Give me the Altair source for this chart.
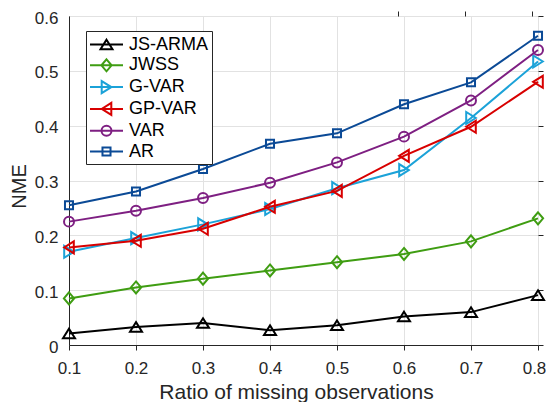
import altair as alt
import pandas as pd

# ---- data ----
ratios = [0.1, 0.2, 0.3, 0.4, 0.5, 0.6, 0.7, 0.8]
series_names = ["JS-ARMA", "JWSS", "G-VAR", "GP-VAR", "VAR", "AR"]
js_arma = [0.021, 0.033, 0.040, 0.027, 0.036, 0.052, 0.060, 0.091]
jwss = [0.085, 0.105, 0.121, 0.136, 0.151, 0.166, 0.189, 0.231]
g_var = [0.170, 0.195, 0.220, 0.248, 0.286, 0.319, 0.414, 0.517]
gp_var = [0.178, 0.190, 0.212, 0.252, 0.281, 0.345, 0.398, 0.480]
var = [0.225, 0.245, 0.268, 0.296, 0.333, 0.380, 0.446, 0.538]
ar = [0.255, 0.280, 0.321, 0.367, 0.386, 0.439, 0.479, 0.564]
y_ticks = [0, 0.1, 0.2, 0.3, 0.4, 0.5, 0.6]

# ---- styles ----
colors = ["#000000", "#3F9D12", "#1BA2D8", "#D80000", "#7E1F82", "#0B4A96"]

# marker outlines in unit coordinates (scaled by sqrt(size)/2)
marker_pts = {
    "tri_up": [(0, -0.8), (1, 0.8), (-1, 0.8)],
    "diamond": [(0, -1), (0.85, 0), (0, 1), (-0.85, 0)],
    "tri_right": [(0.8, 0), (-0.8, 1), (-0.8, -1)],
    "tri_left": [(-0.8, 0), (0.8, 1), (0.8, -1)],
    "square": [(-0.67, -0.67), (0.67, -0.67), (0.67, 0.67), (-0.67, 0.67)],
}
marker_kinds = ["tri_up", "diamond", "tri_right", "tri_left", "circle", "square"]
PLOT_SIZE = 144      # 6 px per unit
LEG_SIZE = 361       # 9.5 px per unit
k = (PLOT_SIZE ** 0.5) / (LEG_SIZE ** 0.5)
half_line = 16.5 / (LEG_SIZE ** 0.5 / 2)


def poly_path(pts, s=1.0):
    parts = [f"{'M' if i == 0 else 'L'}{x * s:.3f},{y * s:.3f}" for i, (x, y) in enumerate(pts)]
    return "".join(parts) + "Z"


def circle_path(r):
    return f"M{r:.3f},0A{r:.3f},{r:.3f},0,1,1,{-r:.3f},0A{r:.3f},{r:.3f},0,1,1,{r:.3f},0Z"


line_seg = f"M{-half_line:.3f},0L{half_line:.3f},0"
plot_paths = []
legend_paths = []
for kind in marker_kinds:
    if kind == "circle":
        plot_paths.append(circle_path(0.83))
        legend_paths.append(line_seg + circle_path(0.83 * k))
    else:
        plot_paths.append(poly_path(marker_pts[kind]))
        legend_paths.append(line_seg + poly_path(marker_pts[kind], k))

rows = []
for name, vals in zip(series_names, [js_arma, jwss, g_var, gp_var, var, ar]):
    for r, v in zip(ratios, vals):
        rows.append({"ratio": r, "nme": v, "series": name})
df = pd.DataFrame(rows)

W, H = 469, 329
FONT = "Liberation Sans"
TXT = "#262626"
color_scale = alt.Scale(domain=series_names, range=colors)
x_scale = alt.Scale(domain=[0.1, 0.8], nice=False, zero=False)
y_scale = alt.Scale(domain=[0, 0.6], nice=False)

x_axis = alt.Axis(values=ratios, format=".1f", grid=True, gridColor="#e2e2e2",
                  domainColor=TXT, ticks=False, labelFontSize=17,
                  labelFont=FONT, labelColor=TXT, labelPadding=15, titleFont=FONT,
                  labelOffset={"condition": {"test": "datum.value > 0.75", "value": -4}, "value": 0},
                  titleFontSize=21, titleFontWeight="normal", titleColor=TXT,
                  titlePadding=5, titleX=227, labelFlush=False)
y_axis = alt.Axis(values=y_ticks, grid=True, gridColor="#e2e2e2",
                  labelExpr="datum.value == 0 ? '0' : format(datum.value, '.1f')",
                  domainColor=TXT, ticks=False, labelFontSize=17, labelOffset=2,
                  labelFont=FONT, labelColor=TXT, labelPadding=11, titleFont=FONT,
                  titleFontSize=20, titleFontWeight="normal", titleColor=TXT,
                  titlePadding=5, titleY=170, labelFlush=False)

X = alt.X("ratio:Q", scale=x_scale, axis=x_axis, title="Ratio of missing observations")
Y = alt.Y("nme:Q", scale=y_scale, axis=y_axis, title="NME")
Xn = alt.X("ratio:Q", scale=x_scale, axis=None)
Yn = alt.Y("nme:Q", scale=y_scale, axis=None)

leg = alt.Legend(orient="none", legendX=17, legendY=15, padding=3, symbolOffset=7,
                 labelOffset=12, rowPadding=0.8, symbolSize=LEG_SIZE, symbolStrokeWidth=2,
                 symbolOpacity=1, labelFont=FONT, labelFontSize=18, labelColor="#000000",
                 fillColor="white", strokeColor=TXT, cornerRadius=0, title=None)
C = alt.Color("series:N", scale=color_scale, legend=leg)

base = alt.Chart(df)
layers = []
for i, (name, path) in enumerate(zip(series_names, plot_paths)):
    sub = base.transform_filter(alt.datum.series == name)
    xe, ye = (X, Y) if i == 0 else (Xn, Yn)
    layers.append(sub.mark_line(strokeWidth=2).encode(x=xe, y=ye, color=C))
    layers.append(sub.mark_point(shape=path, size=PLOT_SIZE, filled=False,
                                 strokeWidth=2, opacity=1).encode(x=Xn, y=Yn, color=C))

legend_layer = base.mark_point(filled=False, opacity=0, strokeWidth=2).encode(
    x=Xn, y=Yn,
    color=C,
    shape=alt.Shape("series:N", scale=alt.Scale(domain=series_names, range=legend_paths),
                    legend=leg),
)
layers.append(legend_layer)


def tick_axis(orient, values, pos):
    return alt.Axis(orient=orient, position=pos, values=values, labels=False, grid=False,
                    domain=False, tickColor=TXT, tickSize=5, tickWidth=1)


# inward ticks on bottom and left edges
layers.append(base.mark_point(opacity=0).encode(
    x=alt.X("ratio:Q", scale=x_scale, title=None, axis=tick_axis("top", ratios, H)),
    y=alt.Y("nme:Q", scale=y_scale, title=None, axis=tick_axis("right", y_ticks, 0)),
))
# inward ticks on top and right edges
layers.append(base.mark_point(opacity=0).encode(
    x=alt.X("ratio:Q", scale=x_scale, title=None, axis=tick_axis("bottom", ratios, 0)),
    y=alt.Y("nme:Q", scale=y_scale, title=None, axis=tick_axis("left", y_ticks, W)),
))

chart = alt.layer(*layers).resolve_axis(x="independent", y="independent").properties(
    width=W, height=H,
    autosize=alt.AutoSizeParams(type="none"),
    padding={"left": 61, "top": 8, "right": 8, "bottom": 57},
).configure_view(stroke=TXT, strokeWidth=1)

chart.save("out.html", embed_options={"renderer": "svg", "actions": False})
